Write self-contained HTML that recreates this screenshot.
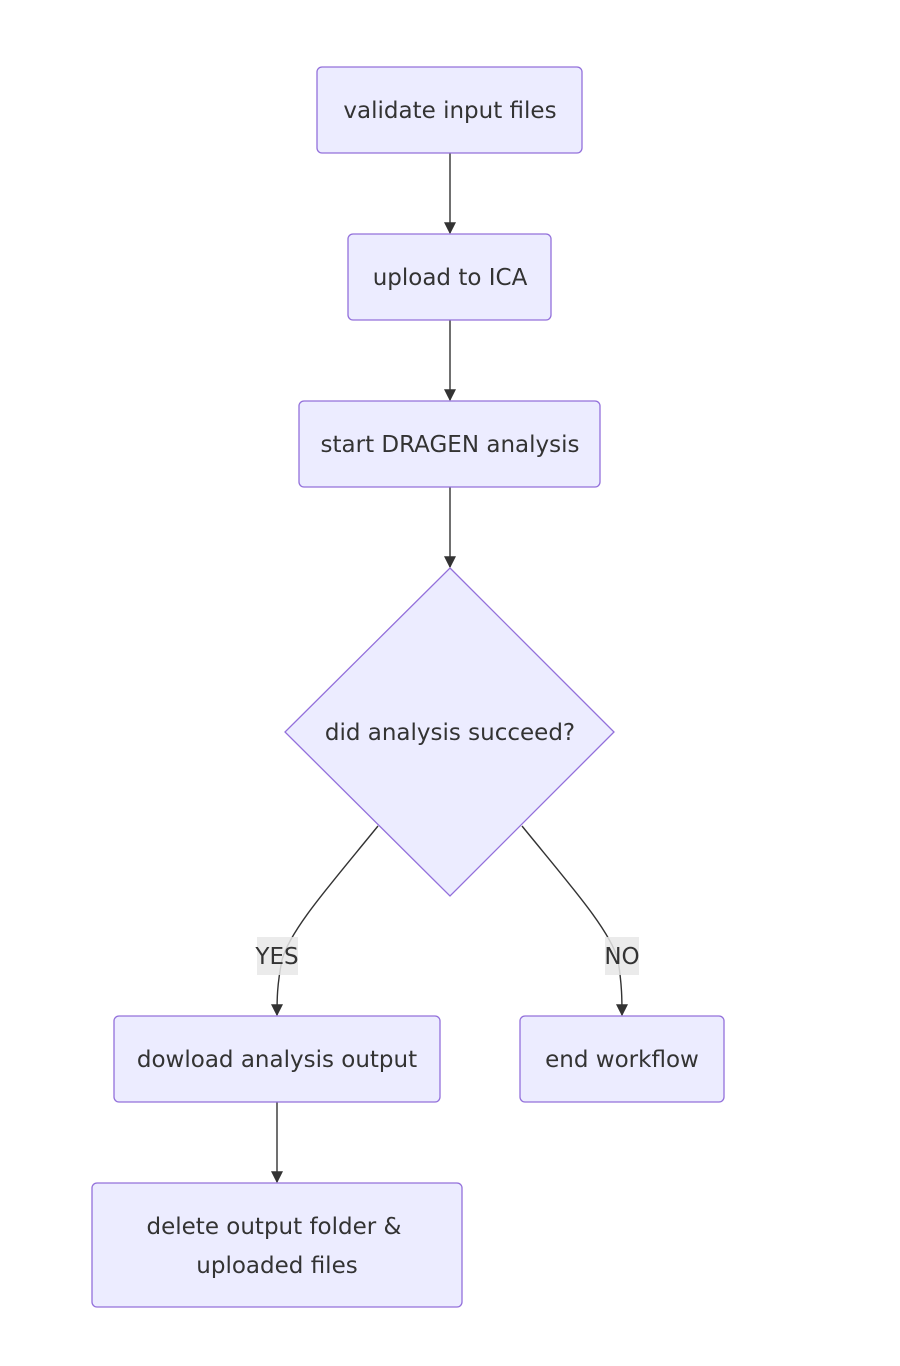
<!DOCTYPE html>
<html><head><meta charset="utf-8"><style>
html,body{margin:0;padding:0;background:#fff;}
svg{display:block;}
text{font-family:"DejaVu Sans","Liberation Sans",sans-serif;font-size:23px;fill:#333;}
.n{fill:#ECECFF;stroke:#9370DB;stroke-width:1.3;}
.e{fill:none;stroke:#333;stroke-width:1.4;}
</style></head><body>
<svg width="900" height="1366" viewBox="0 0 900 1366" xmlns="http://www.w3.org/2000/svg">
<defs><marker id="a" viewBox="0 0 10 10" refX="9" refY="5" markerWidth="12" markerHeight="12" orient="auto-start-reverse" markerUnits="userSpaceOnUse"><path d="M0,0 L10,5 L0,10 z" fill="#333"/></marker></defs>
<path class="e" d="M450,153 L450,233" marker-end="url(#a)"/>
<path class="e" d="M450,320 L450,400" marker-end="url(#a)"/>
<path class="e" d="M450,487 L450,567" marker-end="url(#a)"/>
<path class="e" d="M378,826 C330,885 290,930 282,960 C277,985 277,1000 277,1015" marker-end="url(#a)"/>
<path class="e" d="M522,826 C570,885 610,930 618,960 C622,985 622,1000 622,1015" marker-end="url(#a)"/>
<path class="e" d="M277,1102 L277,1182" marker-end="url(#a)"/>
<rect class="n" x="317" y="67" width="265" height="86" rx="5"/>
<text x="450" y="118" text-anchor="middle">validate input files</text>
<rect class="n" x="348" y="234" width="203" height="86" rx="5"/>
<text x="450" y="285" text-anchor="middle">upload to ICA</text>
<rect class="n" x="299" y="401" width="301" height="86" rx="5"/>
<text x="450" y="452" text-anchor="middle">start DRAGEN analysis</text>
<polygon class="n" points="450,568 614,732 450,896 285,732"/>
<text x="450" y="740" text-anchor="middle">did analysis succeed?</text>
<rect x="257" y="937" width="41" height="38" fill="rgba(232,232,232,0.85)"/>
<text x="277" y="964" text-anchor="middle">YES</text>
<rect x="605" y="937" width="34" height="38" fill="rgba(232,232,232,0.85)"/>
<text x="622" y="964" text-anchor="middle">NO</text>
<rect class="n" x="114" y="1016" width="326" height="86" rx="5"/>
<text x="277" y="1067" text-anchor="middle">dowload analysis output</text>
<rect class="n" x="520" y="1016" width="204" height="86" rx="5"/>
<text x="622" y="1067" text-anchor="middle">end workflow</text>
<rect class="n" x="92" y="1183" width="370" height="124" rx="5"/>
<text x="274" y="1234" text-anchor="middle">delete output folder &amp;</text>
<text x="277" y="1273" text-anchor="middle">uploaded files</text>
</svg>
</body></html>
